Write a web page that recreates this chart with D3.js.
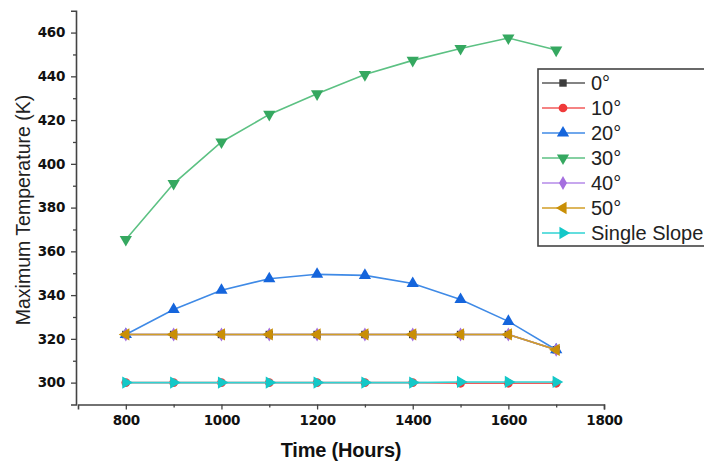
<!DOCTYPE html>
<html>
<head>
<meta charset="utf-8">
<script src="https://cdn.jsdelivr.net/npm/d3@7"></script>
<style>
  body { margin: 0; background: #fff; }
  svg { display: block; }
</style>
</head>
<body>
<script>
var hours = [800, 900, 1000, 1100, 1200, 1300, 1400, 1500, 1600, 1700];

var deg0   = [322, 322, 322, 322, 322, 322, 322, 322, 322, 315];
var deg10  = [300, 300, 300, 300, 300, 300, 300, 299.7, 299.7, 299.7];
var deg20  = [322, 333.4, 342.2, 347.5, 349.5, 349, 345.3, 338, 328, 315];
var deg30  = [365.4, 391, 410, 422.6, 432, 440.8, 447.3, 452.7, 457.5, 452];
var deg40  = [322, 322, 322, 322, 322, 322, 322, 322, 322, 315];
var deg50  = [322, 322, 322, 322, 322, 322, 322, 322, 322, 315];
var single = [300, 300, 300, 300, 300, 300, 300, 300.3, 300.3, 300.3];

var xTicks = [800, 1000, 1200, 1400, 1600, 1800];
var yTicks = [300, 320, 340, 360, 380, 400, 420, 440, 460];

var series = [
  {name: '0\u00b0', values: deg0, line: '#5a5a5a', fill: '#3c3c3c', symbol: d3.symbolSquare, size: 55, rot: 0},
  {name: '10\u00b0', values: deg10, line: '#f25a5a', fill: '#f03a3a', symbol: d3.symbolCircle, size: 60, rot: 0},
  {name: '20\u00b0', values: deg20, line: '#3f8ae6', fill: '#1565dc', symbol: d3.symbolTriangle, size: 65, rot: 0},
  {name: '30\u00b0', values: deg30, line: '#5cc183', fill: '#35a860', symbol: d3.symbolTriangle, size: 65, rot: 180},
  {name: '40\u00b0', values: deg40, line: '#b48ae8', fill: '#a56fdf', symbol: d3.symbolDiamond, size: 55, rot: 0},
  {name: '50\u00b0', values: deg50, line: '#d29e26', fill: '#c98f06', symbol: d3.symbolTriangle, size: 65, rot: -90},
  {name: 'Single Slope', values: single, line: '#2fd3d3', fill: '#14c8c8', symbol: d3.symbolTriangle, size: 65, rot: 90}
];

var width = 704, height = 466;

var svg = d3.select('body')
  .append('svg')
  .attr('width', width)
  .attr('height', height);

var x = d3.scaleLinear().domain([700, 1800]).range([78, 604]);
var y = d3.scaleLinear().domain([290, 470]).range([404.5, 10.7]);

// axes, major then minor ticks
svg.append('g')
  .attr('transform', 'translate(0,404.5)')
  .call(d3.axisBottom(x).tickValues(xTicks).tickSize(5).tickPadding(6).tickFormat(d3.format('d')));
svg.append('g')
  .attr('transform', 'translate(0,404.5)')
  .call(d3.axisBottom(x).tickValues(d3.range(900, 1800, 200)).tickSize(3).tickFormat(''))
  .select('.domain').remove();

svg.append('g')
  .attr('transform', 'translate(76,0)')
  .call(d3.axisLeft(y).tickValues(yTicks).tickSize(5).tickPadding(6));
svg.append('g')
  .attr('transform', 'translate(76,0)')
  .call(d3.axisLeft(y).tickValues(d3.range(310, 470, 20)).tickSize(3).tickFormat(''))
  .select('.domain').remove();

svg.selectAll('.domain')
  .attr('stroke', '#444')
  .attr('stroke-width', 1.6);
svg.selectAll('.tick line')
  .attr('stroke', '#444')
  .attr('stroke-width', 1.3);
svg.selectAll('.tick text')
  .attr('font-family', 'DejaVu Sans, sans-serif')
  .attr('font-weight', 'bold')
  .attr('font-size', 13.5)
  .attr('letter-spacing', -0.3)
  .attr('fill', '#111');

// axis titles
svg.append('text')
  .attr('x', 341)
  .attr('y', 457)
  .attr('font-family', 'Liberation Sans, Arial, sans-serif')
  .attr('font-weight', 'bold')
  .attr('font-size', 20)
  .attr('letter-spacing', -0.2)
  .attr('text-anchor', 'middle')
  .attr('fill', '#111')
  .text('Time (Hours)');

svg.append('text')
  .attr('transform', 'translate(30,210) rotate(-90)')
  .attr('font-family', 'Liberation Sans, Arial, sans-serif')
  .attr('font-size', 19.5)
  .attr('text-anchor', 'middle')
  .attr('fill', '#222')
  .text('Maximum Temperature (K)');

// lines and markers
var line = d3.line()
  .x(function(d, i) { return x(hours[i]); })
  .y(function(d) { return y(d); });

series.forEach(function(s) {
  svg.append('path')
    .attr('d', line(s.values))
    .attr('fill', 'none')
    .attr('stroke', s.line)
    .attr('stroke-width', 1.6);

  var sym = d3.symbol().type(s.symbol).size(s.size);
  svg.append('g').selectAll('path')
    .data(s.values)
    .join('path')
    .attr('d', sym)
    .attr('transform', function(d, i) {
      return 'translate(' + x(hours[i]) + ',' + y(d) + ') rotate(' + s.rot + ')';
    })
    .attr('fill', s.fill);
});

// legend
var legend = svg.append('g').attr('transform', 'translate(538,69)');
legend.append('rect')
  .attr('x', 0)
  .attr('y', 0)
  .attr('width', 180)
  .attr('height', 177)
  .attr('fill', '#fff')
  .attr('stroke', '#444')
  .attr('stroke-width', 1.6);

series.forEach(function(s, i) {
  var ly = 14 + i * 25;
  legend.append('line')
    .attr('x1', 4)
    .attr('x2', 47)
    .attr('y1', ly)
    .attr('y2', ly)
    .attr('stroke', s.line)
    .attr('stroke-width', 1.6);
  legend.append('path')
    .attr('d', d3.symbol().type(s.symbol).size(s.size)())
    .attr('transform', 'translate(25,' + ly + ') rotate(' + s.rot + ')')
    .attr('fill', s.fill);
  legend.append('text')
    .attr('x', 53)
    .attr('y', ly + 7)
    .attr('font-family', 'Liberation Sans, Arial, sans-serif')
    .attr('font-size', 20)
    .attr('fill', '#222')
    .text(s.name);
});
</script>
</body>
</html>
